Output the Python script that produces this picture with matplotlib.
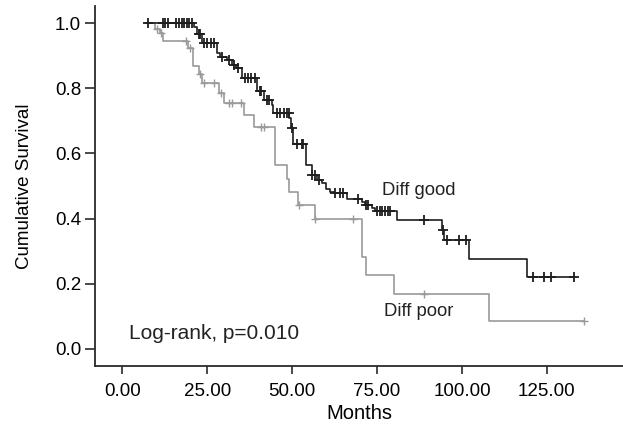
import numpy as np
import matplotlib.pyplot as plt

plt.rcParams['font.family'] = ['Liberation Sans', 'DejaVu Sans']

# Diff good: event times (months) and survival after each event
good_start = 7.0
good_t = [21.0, 22.0, 23.4, 27.9, 28.8, 30.8, 32.3, 33.5, 35.2, 39.8, 41.6, 44.0,
          44.5, 49.2, 49.6, 50.4, 54.0, 55.8, 57.3, 58.7, 60.1, 61.2, 62.2, 66.1,
          70.5, 71.5, 73.4, 74.4, 80.8, 94.0, 94.7, 102.1, 119.0]
good_s = [0.990, 0.966, 0.938, 0.908, 0.897, 0.887, 0.872, 0.862, 0.831, 0.792, 0.764, 0.749,
          0.725, 0.708, 0.677, 0.628, 0.564, 0.533, 0.518, 0.508, 0.492, 0.482, 0.477, 0.461,
          0.451, 0.441, 0.431, 0.423, 0.395, 0.364, 0.334, 0.277, 0.220]
good_end = 133.0
good_cens = [7.6, 12.0, 12.7, 13.6, 15.9, 16.8, 17.6, 18.2, 19.1, 19.7, 20.6, 22.5, 23.0,
             24.0, 25.0, 26.0, 27.0, 29.5, 31.5, 33.0, 34.2, 36.0, 37.0, 38.0, 39.0, 40.5,
             41.0, 42.5, 43.2, 45.5, 46.5, 47.5, 48.5, 49.0, 50.0, 51.4, 52.8, 53.2, 56.0,
             56.8, 58.0, 62.5, 64.0, 65.0, 69.5, 71.9, 72.4, 75.0, 75.8, 76.6, 77.4, 78.1,
             78.8, 88.8, 94.3, 95.5, 99.2, 101.2, 121.0, 124.1, 126.1, 133.0]

# Diff poor
poor_start = 7.0
poor_t = [9.7, 11.0, 11.9, 19.5, 20.8, 22.7, 23.5, 28.6, 30.0, 35.8, 38.9, 44.9,
          48.4, 49.2, 51.8, 56.8, 70.7, 71.9, 80.0, 108.0]
poor_s = [0.982, 0.969, 0.946, 0.923, 0.870, 0.844, 0.817, 0.787, 0.755, 0.719, 0.682, 0.564,
          0.520, 0.482, 0.441, 0.397, 0.282, 0.226, 0.169, 0.084]
poor_end = 135.9
poor_cens = [10.2, 11.3, 18.8, 20.1, 23.0, 24.0, 27.0, 29.0, 31.5, 32.2, 35.1, 40.8, 41.6,
             51.9, 56.8, 67.8, 88.8, 135.9]

x_ticks = [0, 25, 50, 75, 100, 125]
y_ticks = [0.0, 0.2, 0.4, 0.6, 0.8, 1.0]


def km_line(start, t, s, end):
    x = np.concatenate([[start], t, [end]])
    y = np.concatenate([[1.0], s, [s[-1]]])
    return x, y


def cens_y(cens, t, s):
    levels = np.concatenate([[1.0], s])
    idx = np.searchsorted(t, cens, side='right')
    return levels[idx]


fig = plt.figure(figsize=(6.23, 4.30), dpi=100)
ax = fig.add_axes([0.1525, 0.149, 0.8475, 0.837])

gx, gy = km_line(good_start, good_t, good_s, good_end)
px, py = km_line(poor_start, poor_t, poor_s, poor_end)

ax.step(px, py, where='post', color='#9a9a9a', lw=1.2)
ax.plot(poor_cens, cens_y(poor_cens, poor_t, poor_s), ls='none', marker='+',
        ms=6, mew=1.0, color='#9a9a9a')
ax.step(gx, gy, where='post', color='#1e1e1e', lw=1.2)
ax.plot(good_cens, cens_y(good_cens, good_t, good_s), ls='none', marker='+',
        ms=7.5, mew=1.3, color='#1e1e1e')

ax.text(76.5, 0.485, 'Diff good', fontsize=13.3, va='center', ha='left', color='#222222')
ax.text(77.0, 0.113, 'Diff poor', fontsize=13.3, va='center', ha='left', color='#222222')
ax.text(2.0, 0.048, 'Log-rank, p=0.010', fontsize=15, va='center', ha='left', color='#222222')

ax.set_xlim(-8, 147.4)
ax.set_ylim(-0.053, 1.053)
ax.set_xticks(x_ticks)
ax.set_xticklabels(['{:.2f}'.format(v) for v in x_ticks])
ax.set_yticks(y_ticks)
ax.set_yticklabels(['{:.1f}'.format(v) for v in y_ticks])

for side in ['top', 'right']:
    ax.spines[side].set_visible(False)
for side in ['left', 'bottom']:
    ax.spines[side].set_linewidth(1.3)
    ax.spines[side].set_color('#2a2a2a')

ax.tick_params(axis='y', length=7, width=1.2, labelsize=13.5, color='#2a2a2a', pad=3)
ax.tick_params(axis='x', length=6, width=1.2, labelsize=13.5, color='#2a2a2a', pad=6)

ax.set_xlabel('Months', fontsize=14.5)
ax.set_ylabel('Cumulative Survival', fontsize=13.5)
ax.xaxis.set_label_coords(0.5, -0.105)
ax.yaxis.set_label_coords(-0.118, 0.5)

fig.savefig('out.png', dpi=100)
plt.close()
